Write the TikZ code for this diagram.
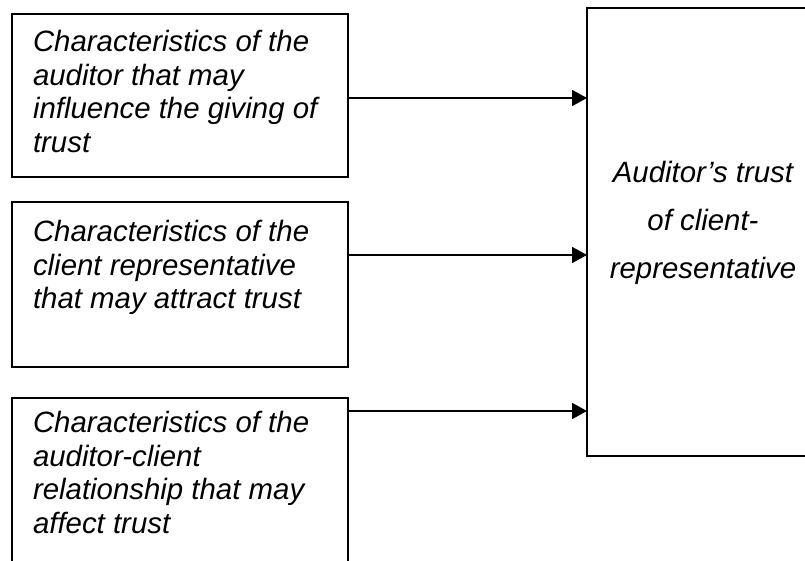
\documentclass[tikz,border=0pt]{standalone}
\usepackage{fontspec}
\setmainfont{Liberation Sans}
\usetikzlibrary{arrows.meta}
\newcommand\lefttext[1]{\vtop{\lineskiplimit=-100pt\baselineskip=33.5pt\halign{##\hfil\cr #1\crcr}}}
\newcommand\midtext[1]{\vtop{\lineskiplimit=-100pt\baselineskip=48pt\halign{\hfil##\hfil\cr #1\crcr}}}
\tikzset{
  boxed/.style={draw=black, line width=2pt, fill=none, inner sep=0pt, outer sep=0pt},
  label text/.style={inner sep=0pt, outer sep=0pt, anchor=base west, font=\fontsize{29.4pt}{33.5pt}\selectfont\itshape},
  mid text/.style={inner sep=0pt, outer sep=0pt, anchor=base, font=\fontsize{29.4pt}{33.5pt}\selectfont\itshape},
  arr/.style={line width=1.8pt, -{Triangle[length=15pt,width=16pt]}}
}
\begin{document}
\begin{tikzpicture}[x=1pt,y=1pt]
\useasboundingbox (0,0) rectangle (805,561);
\clip (0,0) rectangle (805,561);
\fill[white] (0,0) rectangle (805,561);
% left boxes
\node[boxed, minimum width=336pt, minimum height=163pt, anchor=north west] (b1) at (12,547) {};
\node[boxed, minimum width=336pt, minimum height=165pt, anchor=north west] (b2) at (12,359) {};
\node[boxed, minimum width=336pt, minimum height=190pt, anchor=north west] (b3) at (12,163) {};
% right box
\node[boxed, minimum width=233pt, minimum height=448pt, anchor=north west] (r) at (587,553) {};
% texts
\node[label text] (t1) at (33,509) {\lefttext{Characteristics of the\cr auditor that may\cr influence the giving of\cr trust}};
\node[label text] (t2) at (33,319) {\lefttext{Characteristics of the\cr client representative\cr that may attract trust}};
\node[label text] (t3) at (33,128) {\lefttext{Characteristics of the\cr auditor-client\cr relationship that may\cr affect trust}};
\node[mid text] (t4) at (703,378) {\midtext{Auditor’s trust\cr of client-\cr representative}};
% arrow start points on the boxes' right sides
\coordinate (a1) at (348,463);
\coordinate (a2) at (348,306);
\coordinate (a3) at (348,150);
\draw[arr] (a1) -- (a1 -| r.west);
\draw[arr] (a2) -- (a2 -| r.west);
\draw[arr] (a3) -- (a3 -| r.west);
\end{tikzpicture}
\end{document}
